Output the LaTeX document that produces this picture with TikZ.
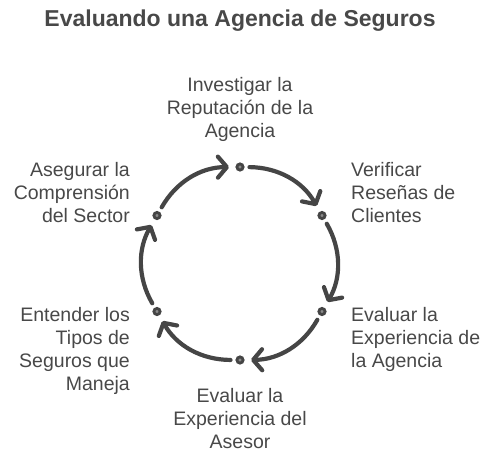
\documentclass[tikz,border=0pt]{standalone}
\usepackage{fontspec}
\setmainfont{Liberation Sans}
\usetikzlibrary{arrows.meta}
\definecolor{txt}{HTML}{484848}
\definecolor{ln}{HTML}{454545}
\definecolor{dotin}{HTML}{8A8A8A}
\tikzset{
  dotnode/.style={circle, draw=ln, line width=2.8pt, fill=dotin, minimum size=6.2pt, inner sep=0pt},
  lbl/.style={text=txt, inner sep=0pt, font=\fontsize{19.5}{23}\selectfont},
  flow/.style={draw=ln, line width=4.2pt, line cap=round, bend left=30,
    -{Straight Barb[length=9pt,width=21pt,round]}, shorten <=5pt, shorten >=6.5pt}
}
\begin{document}
\begin{tikzpicture}[x=1pt,y=1pt]
\useasboundingbox (0,0) rectangle (492,-456);
\node[text=txt, inner sep=0pt, anchor=base, font=\fontsize{23}{26}\selectfont\bfseries] (title) at (240,-26) {Evaluando una Agencia de Seguros};
\node[dotnode] (d1) at (240,-167) {};
\node[dotnode] (d2) at (322,-215.5) {};
\node[dotnode] (d3) at (322,-311.5) {};
\node[dotnode] (d4) at (240,-360) {};
\node[dotnode] (d5) at (157,-311.5) {};
\node[dotnode] (d6) at (157,-215.5) {};
\draw[flow] (d1) to (d2);
\draw[flow] (d2) to (d3);
\draw[flow] (d3) to (d4);
\draw[flow] (d4) to (d5);
\draw[flow] (d5) to (d6);
\draw[flow] (d6) to (d1);
\node[lbl, anchor=north, align=center] (l1) at (240,-77) {Investigar la\\Reputación de la\\Agencia};
\node[lbl, anchor=north west, align=left] (l2) at (351,-162) {Verificar\\Reseñas de\\Clientes};
\node[lbl, anchor=north west, align=left] (l3) at (351,-307) {Evaluar la\\Experiencia de\\la Agencia};
\node[lbl, anchor=north, align=center] (l4) at (240,-388) {Evaluar la\\Experiencia del\\Asesor};
\node[lbl, anchor=north east, align=right] (l5) at (130,-307) {Entender los\\Tipos de\\Seguros que\\Maneja};
\node[lbl, anchor=north east, align=right] (l6) at (130,-162) {Asegurar la\\Comprensión\\del Sector};
\end{tikzpicture}
\end{document}
